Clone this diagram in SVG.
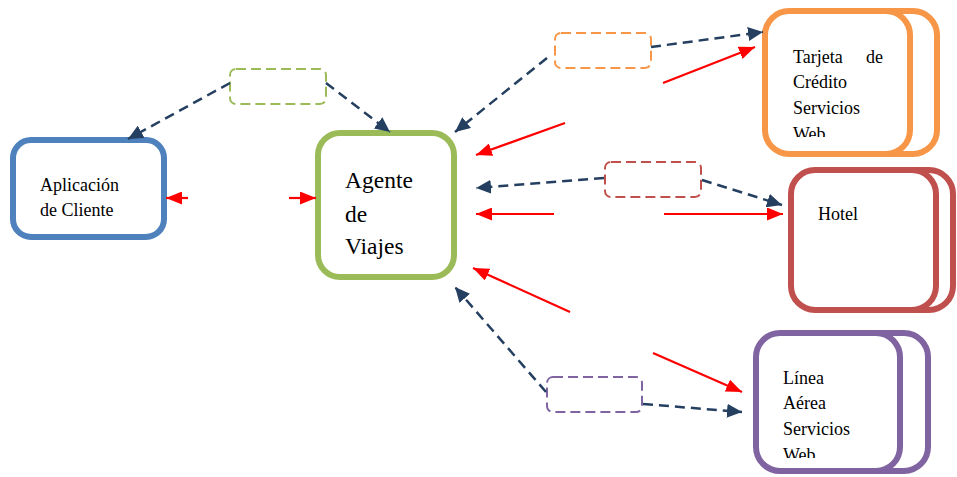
<svg xmlns="http://www.w3.org/2000/svg" width="957" height="477" viewBox="0 0 957 477">
<style>
.t{font-family:"Liberation Serif","Times New Roman",serif;font-size:18px;fill:#000}
.big{font-size:23.5px}
.node{fill:#fff;stroke-width:6}
.db{fill:#fff;stroke-width:2;stroke-dasharray:10 5}
.dash{fill:none;stroke:#243F60;stroke-width:2.5;stroke-dasharray:10 6;marker-end:url(#ad)}
.red{fill:none;stroke:#FF0000;stroke-width:2.2;marker-end:url(#ar)}
</style>
<defs>
<marker id="ad" markerWidth="16" markerHeight="14" refX="15" refY="7" orient="auto" markerUnits="userSpaceOnUse"><path d="M0,0 L15,7 L0,14 z" fill="#243F60"/></marker>
<marker id="ar" markerWidth="17" markerHeight="13" refX="16" refY="6.5" orient="auto" markerUnits="userSpaceOnUse"><path d="M0,0 L16,6.5 L0,13 z" fill="#FF0000"/></marker>
<clipPath id="c1"><rect x="765" y="11" width="145" height="126"/></clipPath>
<clipPath id="c2"><rect x="756" y="333" width="144" height="125"/></clipPath>
</defs>

<g id="cliente">
<rect class="node" x="13" y="140" width="151" height="97" rx="18" stroke="#4F81BD"/>
<text class="t" x="40" y="191">Aplicación</text>
<text class="t" x="40" y="216">de Cliente</text>
</g>

<g id="agente">
<rect class="node" x="318" y="133" width="136" height="144" rx="22" stroke="#9BBB59"/>
<text class="t big" x="345" y="188">Agente</text>
<text class="t big" x="345" y="222">de</text>
<text class="t big" x="345" y="254">Viajes</text>
</g>

<g id="tarjeta">
<rect class="node" x="790" y="11" width="147" height="143" rx="24" stroke="#F79646"/>
<rect class="node" x="765" y="11" width="145" height="143" rx="24" stroke="#F79646"/>
<g clip-path="url(#c1)">
<text class="t" x="793" y="63">Tarjeta</text>
<text class="t" x="883" y="63" text-anchor="end">de</text>
<text class="t" x="793" y="88">Crédito</text>
<text class="t" x="793" y="114">Servicios</text>
<text class="t" x="793" y="140">Web</text>
</g>
</g>

<g id="hotel">
<rect class="node" x="815" y="170" width="138" height="140" rx="24" stroke="#C0504D"/>
<rect class="node" x="791" y="170" width="145" height="140" rx="24" stroke="#C0504D"/>
<text class="t" x="818" y="220">Hotel</text>
</g>

<g id="linea">
<rect class="node" x="780" y="333" width="148" height="138" rx="24" stroke="#8064A2"/>
<rect class="node" x="756" y="333" width="144" height="138" rx="24" stroke="#8064A2"/>
<g clip-path="url(#c2)">
<text class="t" x="783" y="384">Línea</text>
<text class="t" x="783" y="409">Aérea</text>
<text class="t" x="783" y="435">Servicios</text>
<text class="t" x="783" y="461">Web</text>
</g>
</g>

<g id="msg-cliente"><rect class="db" x="230" y="69" width="96" height="35" rx="6" stroke="#9BBB59"/></g>
<g id="msg-tarjeta"><rect class="db" x="555" y="33" width="96" height="35" rx="6" stroke="#F79646"/></g>
<g id="msg-hotel"><rect class="db" x="605" y="162" width="96" height="35" rx="6" stroke="#C0504D"/></g>
<g id="msg-linea"><rect class="db" x="547" y="377" width="95" height="35" rx="6" stroke="#8064A2"/></g>

<g id="connectors">
<path class="dash" d="M230,83 L128,139"/>
<path class="dash" d="M326,83 L390,132"/>
<path class="dash" d="M651,47 L763,32"/>
<path class="dash" d="M547,58 L455,132"/>
<path class="dash" d="M604,178 L476,188"/>
<path class="dash" d="M702,180 L782,205"/>
<path class="dash" d="M546,392 L455,287"/>
<path class="dash" d="M643,404 L742,412"/>
<path class="red" d="M188,198 L166,198"/>
<path class="red" d="M289,198 L316,198"/>
<path class="red" d="M663,83 L755,47"/>
<path class="red" d="M565,123 L476,155"/>
<path class="red" d="M554,214 L476,214"/>
<path class="red" d="M664,214 L783,214"/>
<path class="red" d="M570,312 L473,268"/>
<path class="red" d="M653,353 L742,392"/>
</g>
</svg>
